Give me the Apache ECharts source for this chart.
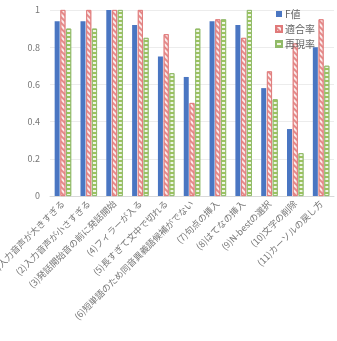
<!DOCTYPE html>
<html>
<head>
<meta charset="utf-8">
<script src="https://cdn.jsdelivr.net/npm/echarts@6/dist/echarts.min.js"></script>
<style>
html, body { margin: 0; padding: 0; background: #fff; }
#chart { width: 337px; height: 341px; }
</style>
</head>
<body>
<div id="chart"></div>
<script>
var categories = ['(1)入力音声が大きすぎる', '(2)入力音声が小さすぎる', '(3)発話開始音の前に発話開始', '(4)フィラーが入る',
    '(5)長すぎて文中で切れる', '(6)短単語のため同音異義語候補がでない', '(7)句点の挿入', '(8)はてなの挿入',
    '(9)N-bestの選択', '(10)文字の削除', '(11)カーソルの戻し方'];
var fValues = [0.94, 0.94, 1.0, 0.92, 0.75, 0.64, 0.94, 0.92, 0.58, 0.36, 0.80];
var precision = [1.0, 1.0, 1.0, 1.0, 0.87, 0.50, 0.95, 0.85, 0.67, 0.82, 0.95];
var recall = [0.90, 0.90, 1.0, 0.85, 0.66, 0.90, 0.95, 1.0, 0.52, 0.23, 0.70];
var yTicks = [0, 0.2, 0.4, 0.6, 0.8, 1];

var font = '"Noto Sans CJK JP", sans-serif';
var chart = echarts.init(document.getElementById('chart'));
var option = {
    animation: false,
    textStyle: { fontFamily: font },
    legend: {
        orient: 'vertical',
        left: 270,
        top: 4,
        itemWidth: 6,
        itemHeight: 6,
        itemGap: 5,
        icon: 'rect',
        textStyle: { color: '#666', fontSize: 10, fontFamily: font, padding: [0, 0, 0, -2] },
        data: ['F値', '適合率', '再現率']
    },
    grid: { left: 50, right: 3, top: 10, bottom: 145, outerBoundsMode: 'none' },
    xAxis: {
        type: 'category',
        data: categories,
        axisLine: { lineStyle: { color: '#d9d9d9' } },
        axisTick: { show: false },
        axisLabel: { rotate: 45, interval: 0, color: '#777', fontSize: 9, margin: 6 }
    },
    yAxis: {
        type: 'value',
        min: yTicks[0],
        max: yTicks[yTicks.length - 1],
        interval: 0.2,
        axisLine: { show: false },
        axisTick: { show: false },
        axisLabel: { color: '#777', fontSize: 9, margin: 10 },
        splitLine: { lineStyle: { color: '#ececec' } }
    },
    series: [
        {
            name: 'F値',
            type: 'bar',
            data: fValues,
            barWidth: 5,
            barGap: '15%',
            itemStyle: { color: '#4a76c2' }
        },
        {
            name: '適合率',
            type: 'bar',
            data: precision,
            barWidth: 5,
            itemStyle: {
                color: '#fbecec',
                borderColor: '#e07a7a',
                borderWidth: 0.8,
                decal: {
                    symbol: 'rect',
                    symbolSize: 1,
                    dashArrayX: [1, 0],
                    dashArrayY: [1.5, 1.5],
                    rotation: Math.PI / 4,
                    color: '#e58a8a'
                }
            }
        },
        {
            name: '再現率',
            type: 'bar',
            data: recall,
            barWidth: 5,
            itemStyle: {
                color: '#eef6e4',
                borderColor: '#8fb96a',
                borderWidth: 0.8,
                decal: {
                    symbol: 'rect',
                    symbolSize: 1,
                    dashArrayX: [1, 0],
                    dashArrayY: [1.2, 1.2],
                    rotation: 0,
                    color: '#9cc35e'
                }
            }
        }
    ]
};
chart.setOption(option);
</script>
</body>
</html>
